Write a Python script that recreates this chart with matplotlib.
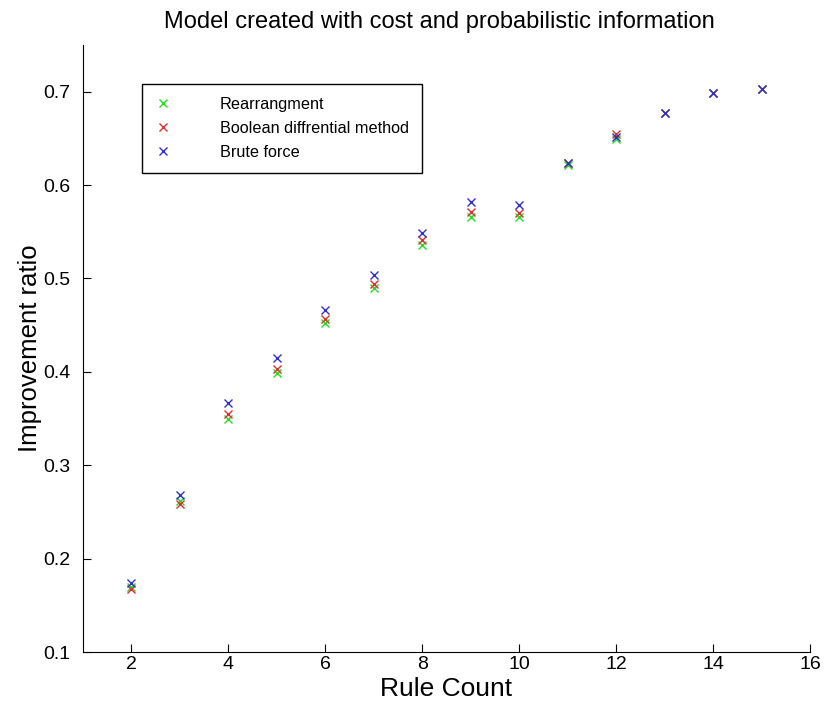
import matplotlib
matplotlib.use("Agg")
import matplotlib.pyplot as plt

plt.rcParams['font.family'] = ['Liberation Sans', 'DejaVu Sans']

rule_count = [2, 3, 4, 5, 6, 7, 8, 9, 10, 11, 12, 13, 14, 15]

# values
rearrangement = [0.170, 0.262, 0.350, 0.399, 0.452, 0.490, 0.536, 0.566, 0.566, 0.622, 0.649, 0.677, 0.699, 0.703]
boolean_diff  = [0.168, 0.259, 0.355, 0.403, 0.457, 0.494, 0.541, 0.571, 0.570, 0.624, 0.655, 0.677, 0.699, 0.703]
brute_force   = [0.174, 0.268, 0.367, 0.415, 0.466, 0.504, 0.549, 0.582, 0.579, 0.624, 0.651, 0.677, 0.699, 0.703]

fig = plt.figure(figsize=(8.24, 7.14), dpi=100)
ax = fig.add_axes([0.1007, 0.0868, 0.8823, 0.8502])

ax.plot(rule_count, rearrangement, 'x', color='#22dd22', ms=5.5, mew=1.0, label='Rearrangment')
ax.plot(rule_count, boolean_diff, 'x', color='#dd3030', ms=5.5, mew=1.0, label='Boolean diffrential method')
ax.plot(rule_count, brute_force, 'x', color='#3030cc', ms=5.5, mew=1.0, label='Brute force')

ax.set_xlim(1, 16)
ax.set_ylim(0.1, 0.75)
ax.set_xticks(range(2, 17, 2))
ax.set_yticks([0.1, 0.2, 0.3, 0.4, 0.5, 0.6, 0.7])
ax.set_yticklabels(['0.1', '0.2', '0.3', '0.4', '0.5', '0.6', '0.7'])
ax.tick_params(direction='in', length=6, labelsize=14, top=False, right=False)
ax.tick_params(axis='y', pad=9)
ax.tick_params(axis='x', pad=3)
ax.spines['top'].set_visible(False)
ax.spines['right'].set_visible(False)

ax.set_xlabel('Rule Count', fontsize=19, labelpad=3)
ax.set_ylabel('Improvement ratio', fontsize=18.5, labelpad=1)
ax.set_title('Model created with cost and probabilistic information', fontsize=17, pad=12, x=0.49)

leg = ax.legend(loc='upper left', bbox_to_anchor=(0.081, 0.936), borderaxespad=0,
                fontsize=11.7, fancybox=False, edgecolor='black', framealpha=1,
                handlelength=1.0, handletextpad=3.0, borderpad=0.8, labelspacing=0.55)
leg.get_frame().set_linewidth(1.0)

fig.savefig('out.png', dpi=100)
